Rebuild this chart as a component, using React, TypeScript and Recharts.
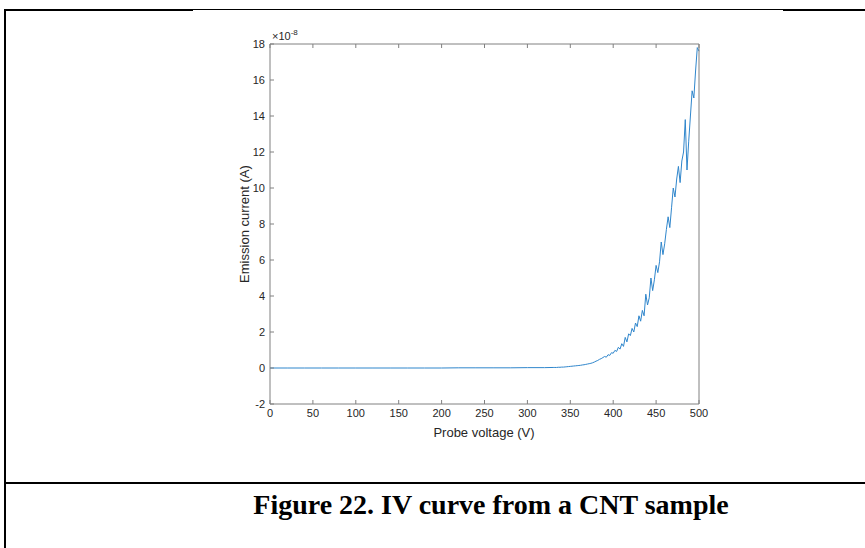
import { Line, LineChart, XAxis, YAxis } from 'recharts';

// probe voltage (V)
const voltage = [
  0, 20, 40, 60, 80, 100, 120, 140, 160, 180, 200, 220, 240, 260, 280, 300, 320,
  330, 332, 334, 336, 338, 340, 342, 344, 346, 348, 350, 352, 354, 356, 358,
  360, 362, 364, 366, 368, 370, 372, 374, 376, 378, 380, 382, 384, 386, 388,
  390, 392, 394, 396, 398, 400, 402, 404, 406, 408, 410, 412, 414, 416, 418,
  420, 422, 424, 426, 428, 430, 432, 434, 436, 438, 440, 442, 444, 446, 448,
  450, 452, 454, 456, 458, 460, 462, 464, 466, 468, 470, 472, 474, 476, 478,
  480, 482, 484, 486, 488, 490, 492, 494, 496, 498, 500,
];

// emission current (x1e-8 A)
const current = [
  0, 0, 0, 0, 0, 0, 0, 0, 0, 0, 0, 0.01, 0.01, 0.01, 0.01, 0.02, 0.02,
  0.03, 0.03, 0.03, 0.04, 0.04, 0.05, 0.05, 0.06, 0.07, 0.08, 0.09, 0.1, 0.11, 0.12, 0.13,
  0.14, 0.15, 0.17, 0.18, 0.2, 0.22, 0.24, 0.26, 0.29, 0.33, 0.38, 0.42, 0.48, 0.52, 0.58,
  0.64, 0.6, 0.74, 0.7, 0.85, 0.82, 0.98, 0.92, 1.15, 1.05, 1.35, 1.2, 1.7, 1.45, 1.9,
  1.8, 2.2, 2.0, 2.5, 2.3, 2.9, 2.6, 3.2, 2.9, 4.1, 3.5, 3.9, 5.0, 4.3, 4.9,
  5.7, 5.3, 5.9, 7.0, 6.3, 6.9, 7.7, 8.4, 7.8, 8.9, 10.0, 9.5, 10.5, 11.2, 10.3,
  11.5, 12.0, 13.8, 11.0, 12.6, 14.0, 15.4, 15.0, 16.5, 17.8, 17.6,
];

const xTicks = [0, 50, 100, 150, 200, 250, 300, 350, 400, 450, 500];
const yTicks = [-2, 0, 2, 4, 6, 8, 10, 12, 14, 16, 18];

const axisColor = '#808080';
const sans = 'Liberation Sans, Arial, sans-serif';
const tickFont = { fontSize: 11, fill: '#262626', fontFamily: sans };
const blank = () => '';

export default function App() {
  const data = voltage.map((v, i) => ({ v, i: current[i] }));

  return (
    <div style={{ position: 'absolute', left: 0, top: 0, width: 865, height: 548, background: '#fff' }}>
      {/* table borders */}
      <div style={{ position: 'absolute', left: 4, top: 9, width: 2, height: 539, background: '#000' }} />
      <div style={{ position: 'absolute', left: 4, top: 9, width: 189, height: 2, background: '#000' }} />
      <div style={{ position: 'absolute', left: 193, top: 9, width: 590, height: 1, background: '#000' }} />
      <div style={{ position: 'absolute', left: 783, top: 9, width: 82, height: 2, background: '#000' }} />
      <div style={{ position: 'absolute', left: 4, top: 482, width: 861, height: 2, background: '#000' }} />

      <div style={{ position: 'absolute', left: 0, top: 0 }}>
        <LineChart width={865} height={548} data={data} margin={{ top: 43, right: 165, bottom: 114, left: 240 }}>
          <XAxis
            dataKey="v"
            type="number"
            domain={[0, 500]}
            ticks={xTicks}
            height={30}
            tick={tickFont}
            tickSize={-4}
            tickMargin={9}
            stroke={axisColor}
          />
          <XAxis
            xAxisId="top"
            orientation="top"
            dataKey="v"
            type="number"
            domain={[0, 500]}
            ticks={xTicks}
            height={1}
            tickFormatter={blank}
            tickSize={-4}
            stroke={axisColor}
          />
          <YAxis
            type="number"
            domain={[-2, 18]}
            ticks={yTicks}
            width={30}
            tick={tickFont}
            tickSize={-4}
            tickMargin={9}
            stroke={axisColor}
          />
          <YAxis
            yAxisId="right"
            orientation="right"
            type="number"
            domain={[-2, 18]}
            ticks={yTicks}
            width={1}
            tickFormatter={blank}
            tickSize={-4}
            stroke={axisColor}
          />
          <Line
            type="linear"
            dataKey="i"
            stroke="#2f86cc"
            strokeWidth={1}
            dot={false}
            isAnimationActive={false}
          />
        </LineChart>
      </div>

      <div style={{ position: 'absolute', left: 272, top: 28, fontFamily: sans, fontSize: 11, color: '#262626' }}>
        ×10<sup style={{ fontSize: 8 }}>-8</sup>
      </div>
      <div
        style={{
          position: 'absolute',
          left: 244,
          top: 224,
          transform: 'translate(-50%, -50%) rotate(-90deg)',
          whiteSpace: 'nowrap',
          fontFamily: sans,
          fontSize: 13,
          color: '#262626',
        }}
      >
        Emission current (A)
      </div>
      <div
        style={{
          position: 'absolute',
          left: 484,
          top: 432,
          transform: 'translate(-50%, -50%)',
          whiteSpace: 'nowrap',
          fontFamily: sans,
          fontSize: 13,
          color: '#262626',
        }}
      >
        Probe voltage (V)
      </div>
      <div
        style={{
          position: 'absolute',
          left: 491,
          top: 505,
          transform: 'translate(-50%, -50%)',
          whiteSpace: 'nowrap',
          fontFamily: 'Liberation Serif, Times New Roman, serif',
          fontWeight: 'bold',
          fontSize: 28,
          color: '#000',
        }}
      >
        Figure 22. IV curve from a CNT sample
      </div>
    </div>
  );
}
